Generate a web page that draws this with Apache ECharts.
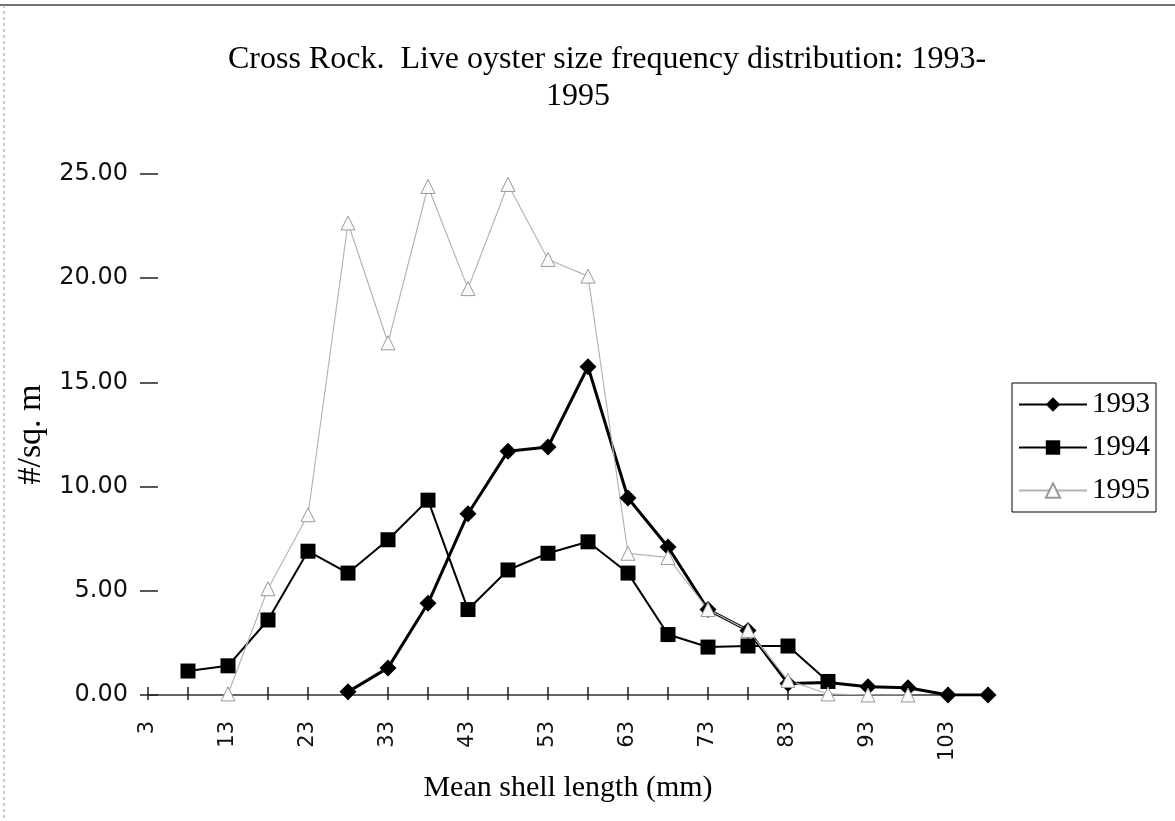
<!DOCTYPE html>
<html>
<head>
<meta charset="utf-8">
<script src="https://cdn.jsdelivr.net/npm/echarts@6/dist/echarts.min.js"></script>
<style>
  html, body { margin: 0; padding: 0; background: #fff; }
  #chart { width: 1175px; height: 821px; }
</style>
</head>
<body>
<div id="chart"></div>
<script>
// mean shell length classes (mm)
const sizes = [3, 8, 13, 18, 23, 28, 33, 38, 43, 48, 53, 58, 63, 68, 73, 78, 83, 88, 93, 98, 103, 108];
const yTicks = [0, 5, 10, 15, 20, 25];

// #/sq. m per size class
const y1993 = [null, null, null, null, null, 0.15, 1.3, 4.4, 8.7, 11.7, 11.9, 15.75, 9.45, 7.1, 4.1, 3.1, 0.55, 0.6, 0.4, 0.35, 0, 0];
const y1994 = [null, 1.15, 1.4, 3.6, 6.9, 5.85, 7.45, 9.35, 4.1, 6.0, 6.8, 7.35, 5.85, 2.9, 2.3, 2.35, 2.35, 0.65, null, null, null, null];
const y1995 = [null, null, 0.05, 5.1, 8.65, 22.65, 16.9, 24.4, 19.5, 24.5, 20.9, 20.1, 6.8, 6.6, 4.1, 3.1, 0.7, 0.05, 0, 0, null, null];

const serif = 'Liberation Serif, Times New Roman, serif';
const sans = 'DejaVu Sans, sans-serif';

let chartDom = document.getElementById('chart');
let myChart = echarts.init(chartDom);

let option = {
  animation: false,
  backgroundColor: '#fff',
  grid: {
    left: 148,
    right: 187,
    top: 174,
    bottom: 126
  },
  graphic: [
    { type: 'line', shape: { x1: 0, y1: 5, x2: 1175, y2: 5 }, style: { stroke: '#444', lineWidth: 1.5 } },
    { type: 'line', shape: { x1: 4, y1: 5, x2: 4, y2: 821 }, style: { stroke: '#999', lineWidth: 1, lineDash: [3, 3] } },
    {
      type: 'text', x: 607, y: 60,
      style: { text: 'Cross Rock.  Live oyster size frequency distribution: 1993-', font: '32px ' + serif, fill: '#000', textAlign: 'center', textVerticalAlign: 'middle', align: 'center', verticalAlign: 'middle' }
    },
    {
      type: 'text', x: 578, y: 97,
      style: { text: '1995', font: '32px ' + serif, fill: '#000', textAlign: 'center', textVerticalAlign: 'middle', align: 'center', verticalAlign: 'middle' }
    }
  ],
  legend: {
    orient: 'vertical',
    left: 1012,
    top: 383,
    itemWidth: 68,
    itemHeight: 18,
    itemGap: 14,
    padding: [7, 6, 7, 6],
    borderColor: '#000',
    borderWidth: 1,
    textStyle: { fontFamily: serif, fontSize: 29, color: '#000' },
    data: ['1993', '1994', '1995']
  },
  xAxis: [
    {
      type: 'category',
      data: sizes,
      boundaryGap: false,
      name: 'Mean shell length (mm)',
      nameLocation: 'middle',
      nameGap: 78,
      nameTextStyle: { fontFamily: serif, fontSize: 30, color: '#000' },
      axisLine: { lineStyle: { color: '#333', width: 1.5 } },
      axisTick: { length: 5, interval: 0, lineStyle: { color: '#222', width: 1.5 } },
      axisLabel: {
        interval: 1,
        rotate: 90,
        margin: 26,
        fontFamily: sans,
        fontSize: 21,
        color: '#111'
      },
      splitLine: { show: false }
    },
    {
      // inner half of the crossing ticks
      type: 'category',
      data: sizes,
      boundaryGap: false,
      position: 'bottom',
      axisLine: { show: false },
      axisTick: { inside: true, length: 8, interval: 0, lineStyle: { color: '#222', width: 1.5 } },
      axisLabel: { show: false },
      splitLine: { show: false }
    }
  ],
  yAxis: [
    {
      type: 'value',
      min: 0,
      max: 25,
      interval: 5,
      name: '#/sq. m',
      nameLocation: 'middle',
      nameGap: 95,
      nameTextStyle: { fontFamily: serif, fontSize: 34, color: '#000' },
      axisLine: { show: false },
      axisTick: { show: true, length: 8, lineStyle: { color: '#222', width: 1.5 } },
      axisLabel: {
        margin: 20,
        fontFamily: sans,
        fontSize: 24,
        color: '#111',
        formatter: v => v.toFixed(2)
      },
      splitLine: { show: false }
    },
    {
      type: 'value',
      min: 0,
      max: 25,
      interval: 5,
      position: 'left',
      axisLine: { show: false },
      axisTick: { show: true, inside: true, length: 10, lineStyle: { color: '#222', width: 1.5 } },
      axisLabel: { show: false },
      splitLine: { show: false }
    }
  ],
  series: [
    {
      name: '1993',
      type: 'line',
      data: y1993,
      symbol: 'diamond',
      symbolSize: 17,
      lineStyle: { color: '#000', width: 3 },
      itemStyle: { color: '#000' }
    },
    {
      name: '1994',
      type: 'line',
      data: y1994,
      symbol: 'rect',
      symbolSize: 15,
      lineStyle: { color: '#000', width: 2 },
      itemStyle: { color: '#000' }
    },
    {
      name: '1995',
      type: 'line',
      data: y1995,
      symbol: 'triangle',
      symbolSize: 14,
      lineStyle: { color: '#b5b5b5', width: 1.2 },
      itemStyle: { color: '#fafafa', borderColor: '#9a9a9a', borderWidth: 1 }
    }
  ]
};

option && myChart.setOption(option);
</script>
</body>
</html>
